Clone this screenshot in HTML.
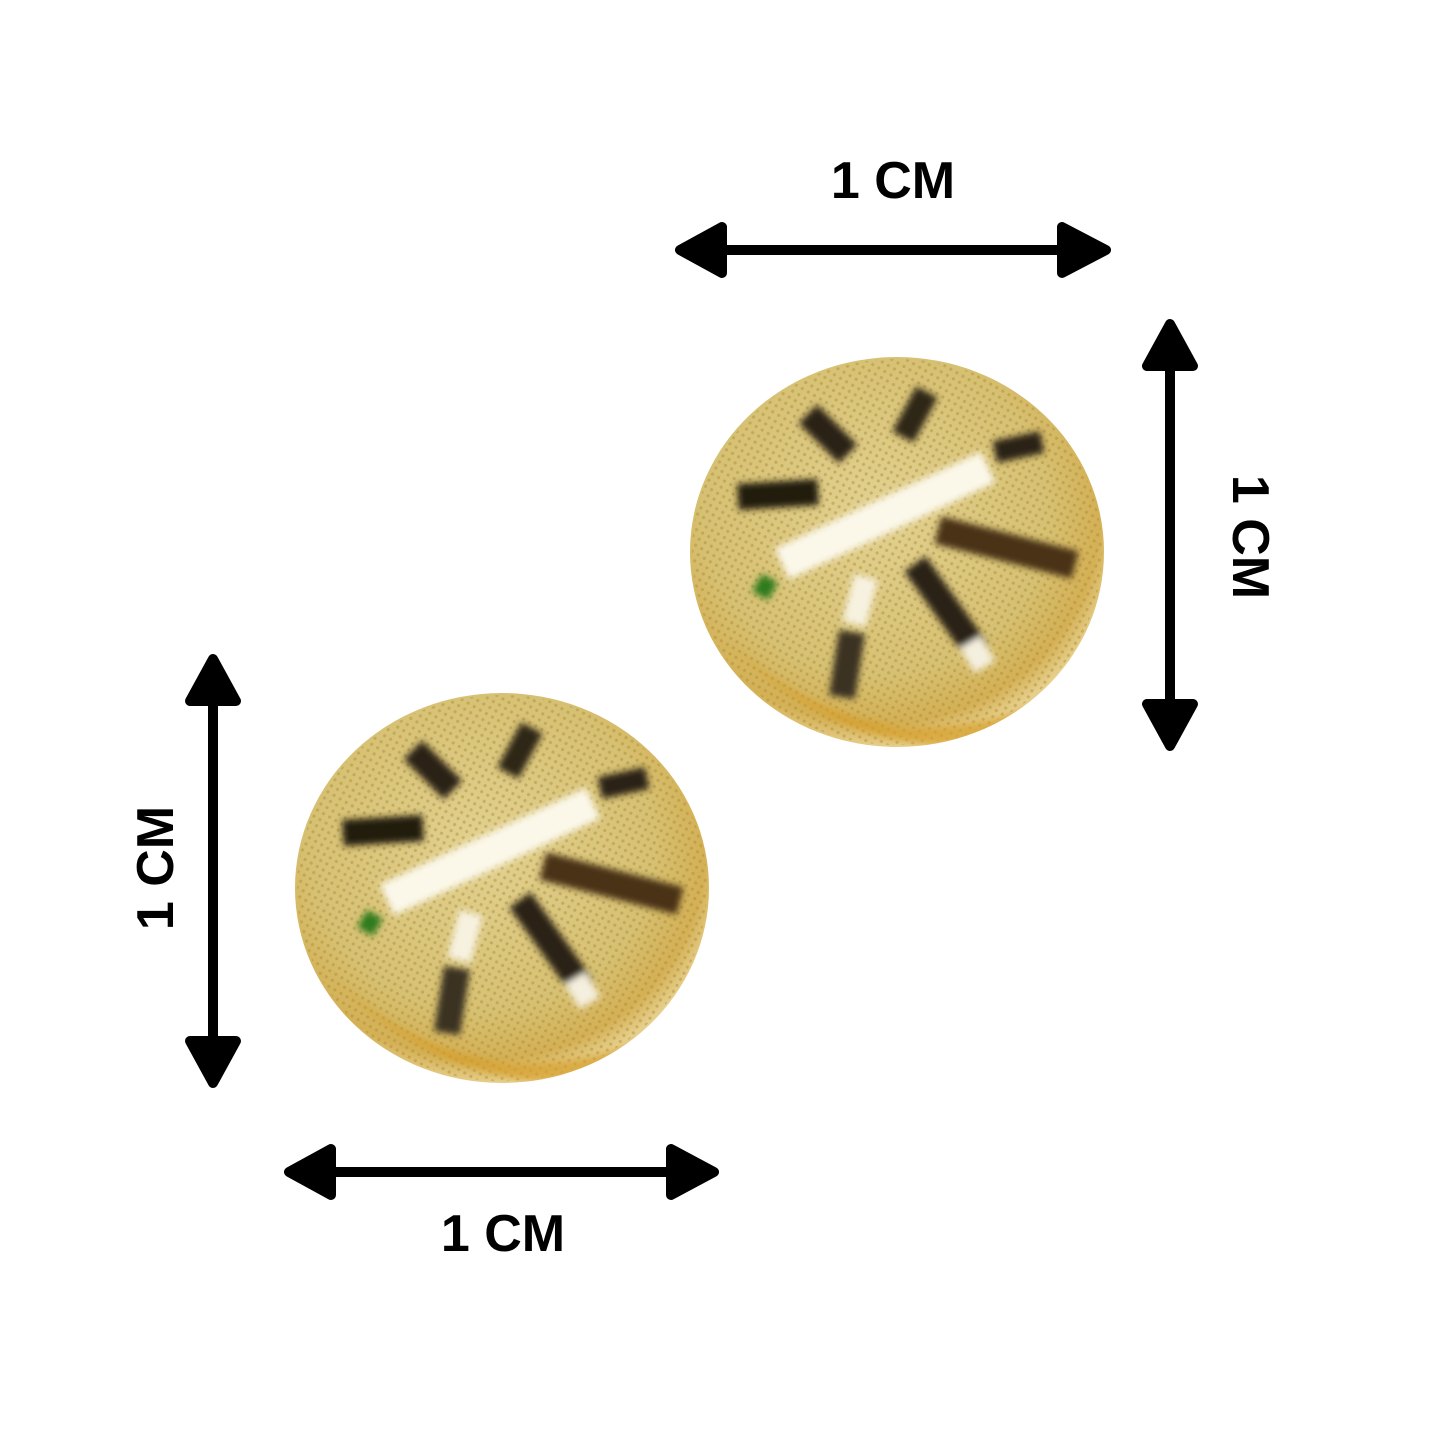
<!DOCTYPE html>
<html><head><style>
html,body{margin:0;padding:0;background:#fff;width:1445px;height:1445px;overflow:hidden}
svg{display:block}
text{font-family:"Liberation Sans",sans-serif;font-weight:bold;font-size:52px;fill:#000}
</style></head><body>
<svg width="1445" height="1445" viewBox="0 0 1445 1445">
<defs>
<radialGradient id="g" cx="45%" cy="40%" r="60%">
<stop offset="0" stop-color="#e2d191"/>
<stop offset="0.7" stop-color="#d6c072"/>
<stop offset="0.9" stop-color="#d4b055"/>
<stop offset="1" stop-color="#e6cf8c"/>
</radialGradient>
<pattern id="mesh" width="7" height="7" patternUnits="userSpaceOnUse" patternTransform="rotate(30)">
<circle cx="3.5" cy="3.5" r="1.6" fill="#a98c34" opacity="0.45"/>
</pattern>
<clipPath id="cp"><ellipse cx="207" cy="200" rx="207" ry="195"/></clipPath>
<filter id="bl"><feGaussianBlur stdDeviation="3.5"/></filter>
<g id="stud">
<ellipse cx="207" cy="200" rx="207" ry="195" fill="url(#g)"/>
<ellipse cx="207" cy="200" rx="205" ry="193" fill="url(#mesh)"/>
<g clip-path="url(#cp)">
<path d="M40,290 Q120,380 240,393 Q330,392 370,340 Q300,380 210,375 Q110,360 40,290Z" fill="#d69e2c" opacity="0.7" filter="url(#bl)"/>
</g>
<g filter="url(#bl)" stroke-linecap="butt">
<line x1="118" y1="62" x2="158" y2="102" stroke="#2a2012" stroke-width="26"/>
<line x1="237" y1="40" x2="213" y2="85" stroke="#2f2616" stroke-width="24"/>
<line x1="305" y1="100" x2="352" y2="90" stroke="#2a2012" stroke-width="22"/>
<line x1="48" y1="145" x2="128" y2="140" stroke="#221a10" stroke-width="26"/>
<line x1="248" y1="178" x2="385" y2="213" stroke="#4a3018" stroke-width="28"/>
<line x1="225" y1="212" x2="288" y2="300" stroke="#2a2012" stroke-width="26"/>
<line x1="280" y1="290" x2="295" y2="315" stroke="#f4efde" stroke-width="24"/>
<line x1="162" y1="280" x2="152" y2="345" stroke="#3a3020" stroke-width="26"/>
<line x1="92" y1="212" x2="298" y2="115" stroke="#fbf8ea" stroke-width="34"/>
<line x1="176" y1="225" x2="164" y2="272" stroke="#f7f2e0" stroke-width="24"/>
<rect x="66" y="225" width="18" height="20" fill="#2f7a1c" transform="rotate(30 75 235)"/>
</g>
</g>
</defs>
<use href="#stud" x="690" y="352"/>
<use href="#stud" x="295" y="688"/>
<g fill="#000" stroke="#000" stroke-width="10" stroke-linejoin="round">
<line x1="700" y1="250" x2="1085" y2="250"/>
<polygon points="680,250 722,227 722,273"/>
<polygon points="1106,250 1062,227 1062,273"/>
<line x1="310" y1="1172" x2="695" y2="1172"/>
<polygon points="289,1172 331,1149 331,1195"/>
<polygon points="714,1172 671,1149 671,1195"/>
<line x1="1170" y1="345" x2="1170" y2="725"/>
<polygon points="1170,324 1147,366 1193,366"/>
<polygon points="1170,746 1147,704 1193,704"/>
<line x1="213" y1="680" x2="213" y2="1062"/>
<polygon points="213,659 190,701 236,701"/>
<polygon points="213,1083 190,1041 236,1041"/>
</g>
<text x="893" y="198" text-anchor="middle">1 CM</text>
<text x="503" y="1251" text-anchor="middle">1 CM</text>
<text transform="translate(1233,537) rotate(90)" text-anchor="middle">1 CM</text>
<text transform="translate(173,868) rotate(-90)" text-anchor="middle">1 CM</text>
</svg>
</body></html>
